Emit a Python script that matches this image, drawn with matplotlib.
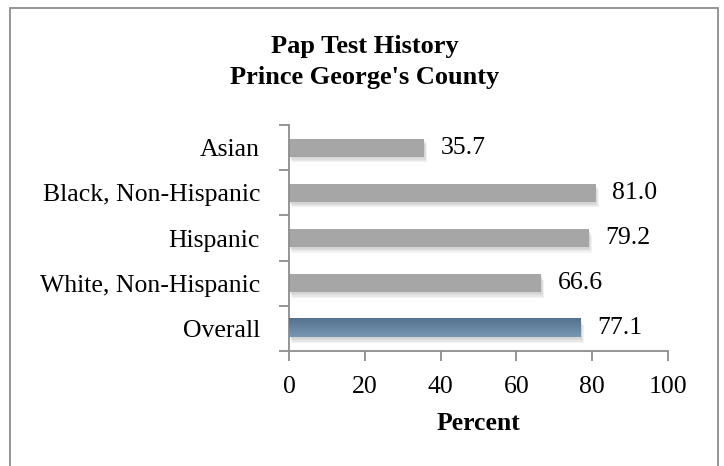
import matplotlib
matplotlib.use("Agg")
import matplotlib.pyplot as plt
import matplotlib.patheffects as pe
from matplotlib.patches import Rectangle
import numpy as np

categories = ["Asian", "Black, Non-Hispanic", "Hispanic", "White, Non-Hispanic", "Overall"]
values = [35.7, 81.0, 79.2, 66.6, 77.1]
x_ticks = [0, 20, 40, 60, 80, 100]

W, H = 724, 466
fig = plt.figure(figsize=(W / 100, H / 100), dpi=100)
fig.patch.set_facecolor("white")

# outer chart frame
fig.add_artist(Rectangle((10 / W, -0.05), (717.5 - 10) / W, 1.05 - 8 / H,
                         transform=fig.transFigure, fill=False,
                         edgecolor="#8c8c8c", linewidth=1.3))

left, right = 289.3 / W, 667.7 / W
top, bottom = 1 - 125 / H, 1 - 351 / H
ax = fig.add_axes([left, bottom, right - left, top - bottom])

serif = ["Liberation Serif", "DejaVu Serif"]
fs = 18.5
n = len(categories)
ypos = np.arange(n)[::-1]
bar_h = 0.4

# soft drop shadow built from a few faint offset copies
shadow = [pe.SimplePatchShadow(offset=(dx, dy), shadow_rgbFace="#9a9a9a", alpha=0.12)
          for dx, dy in [(0.5, -1.2), (1.0, -2.2), (1.5, -3.2), (2.0, -4.0)]] + [pe.Normal()]

for y, v, cat in zip(ypos, values, categories):
    if cat == "Overall":
        # vertical gradient fill for the highlighted bar
        grad = np.linspace(0, 1, 64).reshape(-1, 1)
        cmap = matplotlib.colors.LinearSegmentedColormap.from_list("g", ["#7697b4", "#56718c"])
        ax.barh(y, v, height=bar_h, color="#6684a1", zorder=2, path_effects=shadow)
        ax.imshow(grad, aspect="auto", cmap=cmap,
                  extent=(0, v, y + bar_h / 2, y - bar_h / 2), zorder=3)
    else:
        ax.barh(y, v, height=bar_h, color="#a6a6a6", zorder=2, path_effects=shadow)
    ax.text(v + 4.3, y, f"{v:.1f}", va="center", ha="left", fontsize=fs, family=serif)

ax.set_xlim(0, 100)
ax.set_ylim(-0.5, n - 0.5)
ax.set_xticks(x_ticks)
ax.set_xticklabels([str(t) for t in x_ticks], fontsize=fs, family=serif)
ax.set_yticks(np.arange(-0.5, n, 1.0))
ax.set_yticklabels([])
ax.set_yticks(ypos, minor=True)
ax.set_yticklabels(categories, minor=True, fontsize=fs, family=serif)
ax.tick_params(axis="y", which="minor", length=0, pad=21)
ax.tick_params(axis="y", which="major", length=7, width=1.3, color="#8c8c8c", direction="out")
ax.tick_params(axis="x", length=7, width=1.3, color="#8c8c8c", direction="out", pad=11)

for s in ["top", "right"]:
    ax.spines[s].set_visible(False)
for s in ["left", "bottom"]:
    ax.spines[s].set_color("#8c8c8c")
    ax.spines[s].set_linewidth(1.3)

ax.set_xlabel("Percent", fontsize=fs, fontweight="bold", family=serif, labelpad=10)

fig.text(365 / W, 1 - 62 / H, "Pap Test History\nPrince George's County",
         ha="center", va="center", fontsize=19, fontweight="bold",
         family=serif, linespacing=1.45)

fig.savefig("out.png", dpi=100)
